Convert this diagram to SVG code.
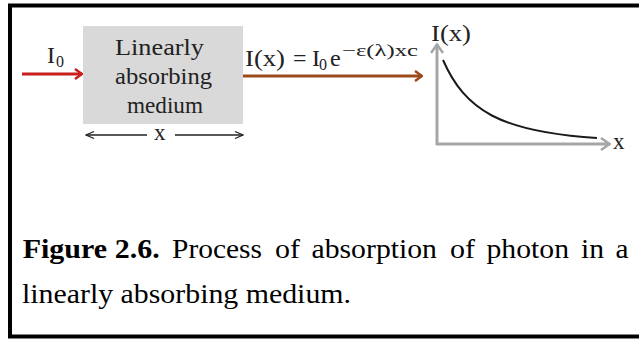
<svg xmlns="http://www.w3.org/2000/svg" width="639" height="339" viewBox="0 0 639 339">
<defs>
<style>
.t{font-family:"Liberation Serif","Times New Roman",serif;fill:#222;}
.c{font-family:"Liberation Serif","Times New Roman",serif;fill:#000;font-size:27px;}
.b{font-weight:bold;}
</style>
<marker id="hr" viewBox="0 0 10 12" refX="9" refY="6" markerWidth="10" markerHeight="12" markerUnits="userSpaceOnUse" orient="auto"><path d="M2,1 L9,6 L2,11" fill="none" stroke="#c81e1e" stroke-width="2.5"/></marker>
<marker id="hb" viewBox="0 0 10 12" refX="9" refY="6" markerWidth="10" markerHeight="12" markerUnits="userSpaceOnUse" orient="auto"><path d="M2,1 L9,6 L2,11" fill="none" stroke="#9c4a1c" stroke-width="2.5"/></marker>
<marker id="hg" viewBox="0 0 12 14" refX="11" refY="7" markerWidth="12" markerHeight="14" markerUnits="userSpaceOnUse" orient="auto"><path d="M2,1 L10.5,7 L2,13" fill="none" stroke="#a6a6a6" stroke-width="2.5"/></marker>
<marker id="hk" viewBox="0 0 10 8" refX="9" refY="4" markerWidth="10" markerHeight="8" markerUnits="userSpaceOnUse" orient="auto"><path d="M1,0.5 L9,4 L1,7.5" fill="none" stroke="#222" stroke-width="1.2"/></marker>
</defs>
<rect width="639" height="339" fill="#fff"/>
<rect x="10" y="5.5" width="640" height="331" fill="none" stroke="#000" stroke-width="4"/>

<g id="medium">
<rect x="83" y="26" width="160" height="98" fill="#d9d9d9"/>
<text class="t" x="115" y="55" font-size="24" textLength="89" lengthAdjust="spacingAndGlyphs">Linearly</text>
<text class="t" x="115" y="84" font-size="24" textLength="97" lengthAdjust="spacingAndGlyphs">absorbing</text>
<text class="t" x="127" y="113" font-size="24" textLength="76" lengthAdjust="spacingAndGlyphs">medium</text>
</g>

<g id="input-label">
<text class="t" x="47" y="63" font-size="24">I</text>
<text class="t" x="56" y="67" font-size="16">0</text>
</g>

<g id="output-label">
<text class="t" x="245" y="66" font-size="24" textLength="40" lengthAdjust="spacingAndGlyphs">I(x)</text>
<text class="t" x="293" y="66" font-size="24">=</text>
<text class="t" x="312" y="66" font-size="24">I</text>
<text class="t" x="319" y="70" font-size="16">0</text>
<text class="t" x="330" y="66" font-size="24">e</text>
<text class="t" x="342" y="56" font-size="16" textLength="76" lengthAdjust="spacingAndGlyphs">−ε(λ)xc</text>
</g>

<g id="dimension">
<text class="t" x="154" y="140" font-size="23">x</text>
</g>

<g id="graph">
<path d="M443,60 C465,110 500,132 597,138" fill="none" stroke="#1a1a1a" stroke-width="2"/>
<text class="t" x="431" y="41" font-size="24" textLength="40" lengthAdjust="spacingAndGlyphs">I(x)</text>
<text class="t" x="613" y="149" font-size="23">x</text>
</g>

<g id="connectors">
<line x1="22" y1="74" x2="82" y2="74" stroke="#c81e1e" stroke-width="3" marker-end="url(#hr)"/>
<line x1="243" y1="76" x2="422" y2="76" stroke="#9c4a1c" stroke-width="3" marker-end="url(#hb)"/>
<line x1="147" y1="135" x2="86" y2="135" stroke="#222" stroke-width="1.3" marker-end="url(#hk)"/>
<line x1="175" y1="135" x2="243" y2="135" stroke="#222" stroke-width="1.3" marker-end="url(#hk)"/>
<line x1="437" y1="145" x2="437" y2="44" stroke="#a6a6a6" stroke-width="3" marker-end="url(#hg)"/>
<line x1="436" y1="144" x2="610" y2="144" stroke="#a6a6a6" stroke-width="3" marker-end="url(#hg)"/>
</g>

<g id="caption">
<text class="c b" x="22.7" y="258" textLength="137" lengthAdjust="spacingAndGlyphs">Figure 2.6.</text>
<text class="c" x="172" y="258" textLength="90" lengthAdjust="spacingAndGlyphs">Process</text>
<text class="c" x="275" y="258" textLength="25" lengthAdjust="spacingAndGlyphs">of</text>
<text class="c" x="311.5" y="258" textLength="125.5" lengthAdjust="spacingAndGlyphs">absorption</text>
<text class="c" x="450" y="258" textLength="25" lengthAdjust="spacingAndGlyphs">of</text>
<text class="c" x="486.5" y="258" textLength="82.5" lengthAdjust="spacingAndGlyphs">photon</text>
<text class="c" x="581" y="258" textLength="23" lengthAdjust="spacingAndGlyphs">in</text>
<text class="c" x="615.5" y="258" textLength="13" lengthAdjust="spacingAndGlyphs">a</text>
<text class="c" x="22" y="303" textLength="329" lengthAdjust="spacingAndGlyphs">linearly absorbing medium.</text>
</g>
</svg>
